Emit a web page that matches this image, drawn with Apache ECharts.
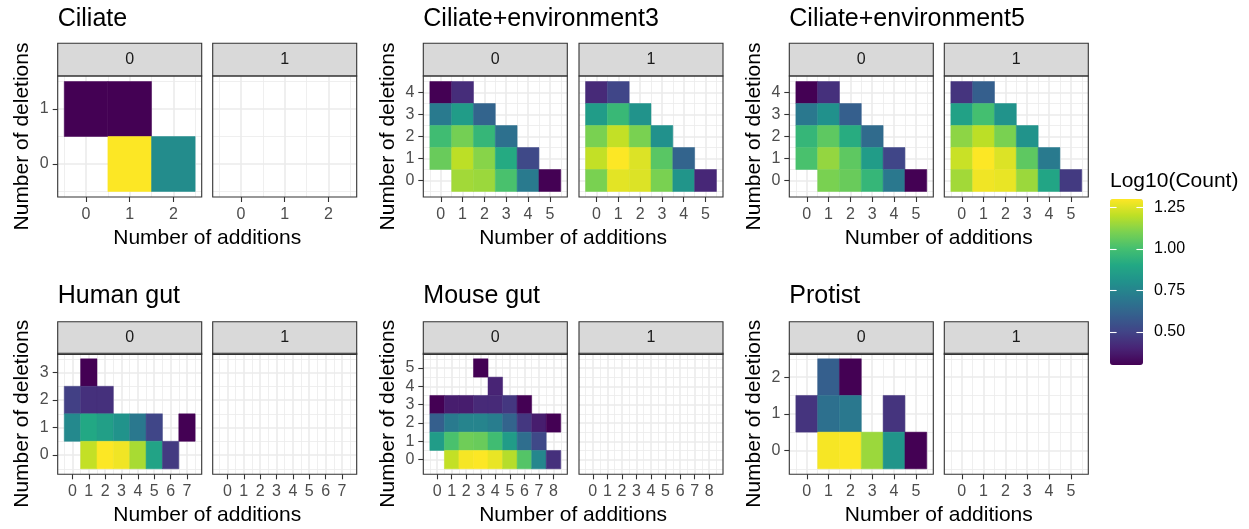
<!DOCTYPE html>
<html>
<head>
<meta charset="utf-8">
<style>
  html, body { margin: 0; padding: 0; background: #ffffff; }
  #chart { width: 1249px; height: 529px; }
</style>
<script src="https://cdn.jsdelivr.net/npm/echarts@6/dist/echarts.min.js"></script>
</head>
<body>
<div id="chart"></div>
<script>
// ---- Data -------------------------------------------------------------
const panelTitles = ['Ciliate', 'Ciliate+environment3', 'Ciliate+environment5',
                     'Human gut', 'Mouse gut', 'Protist'];
const facetLabels = ['0', '1'];
const maxAdditions = [2, 5, 5, 7, 8, 5];
const maxDeletions = [1, 4, 4, 3, 5, 2];
const xAxisTitle = 'Number of additions';
const yAxisTitle = 'Number of deletions';
const legendTitle = 'Log10(Count)';
const legendTicks = [0.5, 0.75, 1.0, 1.25];
const colourMin = 0.30103;   // log10(2)
const colourMax = 1.30103;   // log10(20)

// Each tile: [additions, deletions, log10(count)]
const ciliate0 = [
  [0, 1, 0.30], [1, 1, 0.30],
  [1, 0, 1.30], [2, 0, 0.78]
];
const ciliate1 = [];

const env3_0 = [
  [0, 4, 0.30], [1, 4, 0.43],
  [0, 3, 0.71], [1, 3, 0.85], [2, 3, 0.62],
  [0, 2, 0.99], [1, 2, 1.09], [2, 2, 0.96], [3, 2, 0.67],
  [0, 1, 1.07], [1, 1, 1.20], [2, 1, 1.12], [3, 1, 0.91], [4, 1, 0.52],
  [1, 0, 1.16], [2, 0, 1.15], [3, 0, 1.01], [4, 0, 0.71], [5, 0, 0.30]
];
const env3_1 = [
  [0, 4, 0.42], [1, 4, 0.51],
  [0, 3, 0.85], [1, 3, 0.97], [2, 3, 0.81],
  [0, 2, 1.10], [1, 2, 1.21], [2, 2, 1.10], [3, 2, 0.80],
  [0, 1, 1.21], [1, 1, 1.30], [2, 1, 1.25], [3, 1, 1.04], [4, 1, 0.62],
  [0, 0, 1.10], [1, 0, 1.26], [2, 0, 1.25], [3, 0, 1.10], [4, 0, 0.82], [5, 0, 0.41]
];

const env5_0 = [
  [0, 4, 0.30], [1, 4, 0.44],
  [0, 3, 0.70], [1, 3, 0.80], [2, 3, 0.60],
  [0, 2, 0.96], [1, 2, 1.05], [2, 2, 0.92], [3, 2, 0.65],
  [0, 1, 1.01], [1, 1, 1.14], [2, 1, 1.05], [3, 1, 0.85], [4, 1, 0.51],
  [1, 0, 1.10], [2, 0, 1.07], [3, 0, 0.96], [4, 0, 0.70], [5, 0, 0.30]
];
const env5_1 = [
  [0, 4, 0.45], [1, 4, 0.60],
  [0, 3, 0.87], [1, 3, 1.00], [2, 3, 0.81],
  [0, 2, 1.13], [1, 2, 1.20], [2, 2, 1.10], [3, 2, 0.81],
  [0, 1, 1.22], [1, 1, 1.30], [2, 1, 1.25], [3, 1, 1.05], [4, 1, 0.71],
  [0, 0, 1.16], [1, 0, 1.28], [2, 0, 1.27], [3, 0, 1.15], [4, 0, 0.89], [5, 0, 0.47]
];

const human0 = [
  [1, 3, 0.30],
  [0, 2, 0.49], [1, 2, 0.44], [2, 2, 0.44],
  [0, 1, 0.77], [1, 1, 0.90], [2, 1, 0.86], [3, 1, 0.81], [4, 1, 0.70], [5, 1, 0.51], [7, 1, 0.30],
  [1, 0, 1.21], [2, 0, 1.30], [3, 0, 1.28], [4, 0, 1.17], [5, 0, 0.88], [6, 0, 0.47]
];
const human1 = [];

const mouse0 = [
  [3, 5, 0.30],
  [4, 4, 0.40],
  [0, 3, 0.30], [1, 3, 0.38], [2, 3, 0.38], [3, 3, 0.42], [4, 3, 0.42], [5, 3, 0.46], [6, 3, 0.30],
  [0, 2, 0.60], [1, 2, 0.71], [2, 2, 0.75], [3, 2, 0.75], [4, 2, 0.72], [5, 2, 0.62], [6, 2, 0.46], [7, 2, 0.38], [8, 2, 0.30],
  [0, 1, 0.85], [1, 1, 1.01], [2, 1, 1.08], [3, 1, 1.07], [4, 1, 0.99], [5, 1, 0.85], [6, 1, 0.66], [7, 1, 0.52],
  [1, 0, 1.21], [2, 0, 1.29], [3, 0, 1.30], [4, 0, 1.27], [5, 0, 1.19], [6, 0, 1.03], [7, 0, 0.76], [8, 0, 0.44]
];
const mouse1 = [];

const protist0 = [
  [1, 2, 0.60], [2, 2, 0.30],
  [0, 1, 0.45], [1, 1, 0.67], [2, 1, 0.70], [4, 1, 0.45],
  [1, 0, 1.29], [2, 0, 1.30], [3, 0, 1.15], [4, 0, 0.82], [5, 0, 0.30]
];
const protist1 = [];

const panelData = [
  [ciliate0, ciliate1], [env3_0, env3_1], [env5_0, env5_1],
  [human0, human1], [mouse0, mouse1], [protist0, protist1]
];

// viridis palette
const viridis = ['#440154', '#482475', '#414487', '#355f8d', '#2a788e', '#21918c',
                 '#22a884', '#44bf70', '#7ad151', '#bddf26', '#fde725'];

// ---- Layout -----------------------------------------------------------
const FONT = "'Liberation Sans', Arial, Helvetica, sans-serif";
const facetLefts = [[57.7, 212.7], [423.3, 579], [789.3, 944.3]];
const facetW = 144;
const stripTops = [43.3, 321.7];
const stripH = 32.7;
const plotTops = [76, 353.3];
const plotH = 121;

function range(n) { const a = []; for (let i = 0; i <= n; i++) a.push(i); return a; }
function halves(n) { const a = []; for (let i = -1; i <= n; i++) a.push(i + 0.5); return a; }

function renderTile(params, api) {
  const a = api.value(0), d = api.value(1);
  const tl = api.coord([a - 0.5, d + 0.5]);
  const br = api.coord([a + 0.5, d - 0.5]);
  const c = api.visual('color');
  return {
    type: 'rect',
    shape: { x: tl[0], y: tl[1], width: br[0] - tl[0], height: br[1] - tl[1] },
    style: { fill: c, stroke: c, lineWidth: 0.5 }
  };
}

const grids = [], xAxes = [], yAxes = [], series = [], graphics = [];
const tickStyle = { color: '#333333', width: 1.1 };
const gridMajor = { color: '#ebebeb', width: 1.6 };
const gridMinor = { color: '#ebebeb', width: 0.8 };

panelTitles.forEach((title, p) => {
  const row = Math.floor(p / 3), col = p % 3;
  const nx = maxAdditions[p], ny = maxDeletions[p];
  const xr = nx + 1, yr = ny + 1;
  const xMin = -0.5 - 0.05 * xr, xMax = nx + 0.5 + 0.05 * xr;
  const yMin = -0.5 - 0.05 * yr, yMax = ny + 0.5 + 0.05 * yr;
  const top = plotTops[row];

  for (let f = 0; f < 2; f++) {
    const left = facetLefts[col][f];
    const g = grids.length;
    grids.push({ left: left, top: top, width: facetW, height: plotH, show: false });

    const xi = xAxes.length;
    xAxes.push({
      gridIndex: g, type: 'value', min: xMin, max: xMax, position: 'bottom',
      axisLine: { show: false, onZero: false },
      axisTick: { show: true, length: 5, lineStyle: tickStyle, customValues: range(nx) },
      axisLabel: { customValues: range(nx), color: '#4d4d4d', fontSize: 16, fontFamily: FONT, margin: 9.5 },
      splitLine: { show: true, lineStyle: gridMajor }
    });
    xAxes.push({
      gridIndex: g, type: 'value', min: xMin, max: xMax, position: 'bottom',
      axisLine: { show: false, onZero: false },
      axisTick: { show: false, customValues: halves(nx) },
      axisLabel: { show: false, customValues: halves(nx) },
      splitLine: { show: true, lineStyle: gridMinor }
    });

    const yi = yAxes.length;
    yAxes.push({
      gridIndex: g, type: 'value', min: yMin, max: yMax, position: 'left',
      axisLine: { show: false, onZero: false },
      axisTick: { show: f === 0, length: 5, lineStyle: tickStyle, customValues: range(ny) },
      axisLabel: { show: f === 0, customValues: range(ny), color: '#4d4d4d', fontSize: 16, fontFamily: FONT, margin: 9 },
      splitLine: { show: true, lineStyle: gridMajor }
    });
    yAxes.push({
      gridIndex: g, type: 'value', min: yMin, max: yMax, position: 'left',
      axisLine: { show: false, onZero: false },
      axisTick: { show: false, customValues: halves(ny) },
      axisLabel: { show: false, customValues: halves(ny) },
      splitLine: { show: true, lineStyle: gridMinor }
    });

    const data = panelData[p][f];
    if (data.length) {
      series.push({
        type: 'custom', xAxisIndex: xi, yAxisIndex: yi,
        data: data, encode: { x: 0, y: 1 }, renderItem: renderTile,
        silent: true, clip: false, z: 3
      });
    }

    // facet strip
    graphics.push({
      type: 'rect', z: 100,
      shape: { x: left, y: stripTops[row], width: facetW, height: stripH },
      style: { fill: '#d9d9d9', stroke: '#333333', lineWidth: 1.1 }
    });
    graphics.push({
      type: 'text', z: 101, x: left + facetW / 2, y: stripTops[row] + stripH / 2,
      style: { text: facetLabels[f], fontSize: 16, fontFamily: FONT, fill: '#1a1a1a',
               align: 'center', verticalAlign: 'middle' }
    });
    // panel border
    graphics.push({
      type: 'rect', z: 100,
      shape: { x: left, y: top, width: facetW, height: plotH },
      style: { fill: null, stroke: '#333333', lineWidth: 1.1 }
    });
  }

  const l0 = facetLefts[col][0];
  const cx = (l0 + facetLefts[col][1] + facetW) / 2;
  graphics.push({
    type: 'text', z: 100, x: l0, y: row === 0 ? 19 : 296,
    style: { text: title, fontSize: 25, fontFamily: FONT, fill: '#000000',
             align: 'left', verticalAlign: 'middle' }
  });
  graphics.push({
    type: 'text', z: 100, x: cx, y: top + plotH + 41,
    style: { text: xAxisTitle, fontSize: 21, fontFamily: FONT, fill: '#000000',
             align: 'center', verticalAlign: 'middle' }
  });
  graphics.push({
    type: 'text', z: 100, x: l0 - 35.5, y: top + plotH / 2, rotation: Math.PI / 2,
    style: { text: yAxisTitle, fontSize: 21, fontFamily: FONT, fill: '#000000',
             align: 'center', verticalAlign: 'middle' }
  });
});

// colour bar axes (ticks + labels)
const cbLeft = 1110, cbTop = 199, cbW = 33, cbH = 166;
const cg = grids.length;
grids.push({ left: cbLeft, top: cbTop, width: cbW, height: cbH, show: false, z: 10 });
xAxes.push({ gridIndex: cg, type: 'value', show: false, min: 0, max: 1 });
yAxes.push({
  gridIndex: cg, type: 'value', min: colourMin, max: colourMax, position: 'right', z: 10,
  axisLine: { show: false, onZero: false },
  axisTick: { show: true, inside: true, length: 6.6, lineStyle: { color: '#ffffff', width: 1.1 }, customValues: legendTicks },
  axisLabel: { customValues: legendTicks, formatter: v => v.toFixed(2), margin: 11,
               fontSize: 16, fontFamily: FONT, color: '#000000' },
  splitLine: { show: false }
});
yAxes.push({
  gridIndex: cg, type: 'value', min: colourMin, max: colourMax, position: 'left', z: 10,
  axisLine: { show: false, onZero: false },
  axisTick: { show: true, inside: true, length: 6.6, lineStyle: { color: '#ffffff', width: 1.1 }, customValues: legendTicks },
  axisLabel: { show: false },
  splitLine: { show: false }
});
graphics.push({
  type: 'text', z: 100, x: cbLeft, y: 181,
  style: { text: legendTitle, fontSize: 21, fontFamily: FONT, fill: '#000000',
           align: 'left', verticalAlign: 'middle' }
});

const chart = echarts.init(document.getElementById('chart'));
chart.setOption({
  animation: false,
  backgroundColor: '#ffffff',
  grid: grids,
  xAxis: xAxes,
  yAxis: yAxes,
  visualMap: {
    type: 'continuous', min: colourMin, max: colourMax, dimension: 2,
    seriesIndex: series.map((s, i) => i),
    calculable: false, realtime: false, hoverLink: false,
    inRange: { color: viridis },
    itemWidth: cbW, itemHeight: cbH, left: cbLeft, top: cbTop, padding: 0,
    text: null, orient: 'vertical', z: 4
  },
  series: series,
  graphic: { elements: graphics }
});
</script>
</body>
</html>
